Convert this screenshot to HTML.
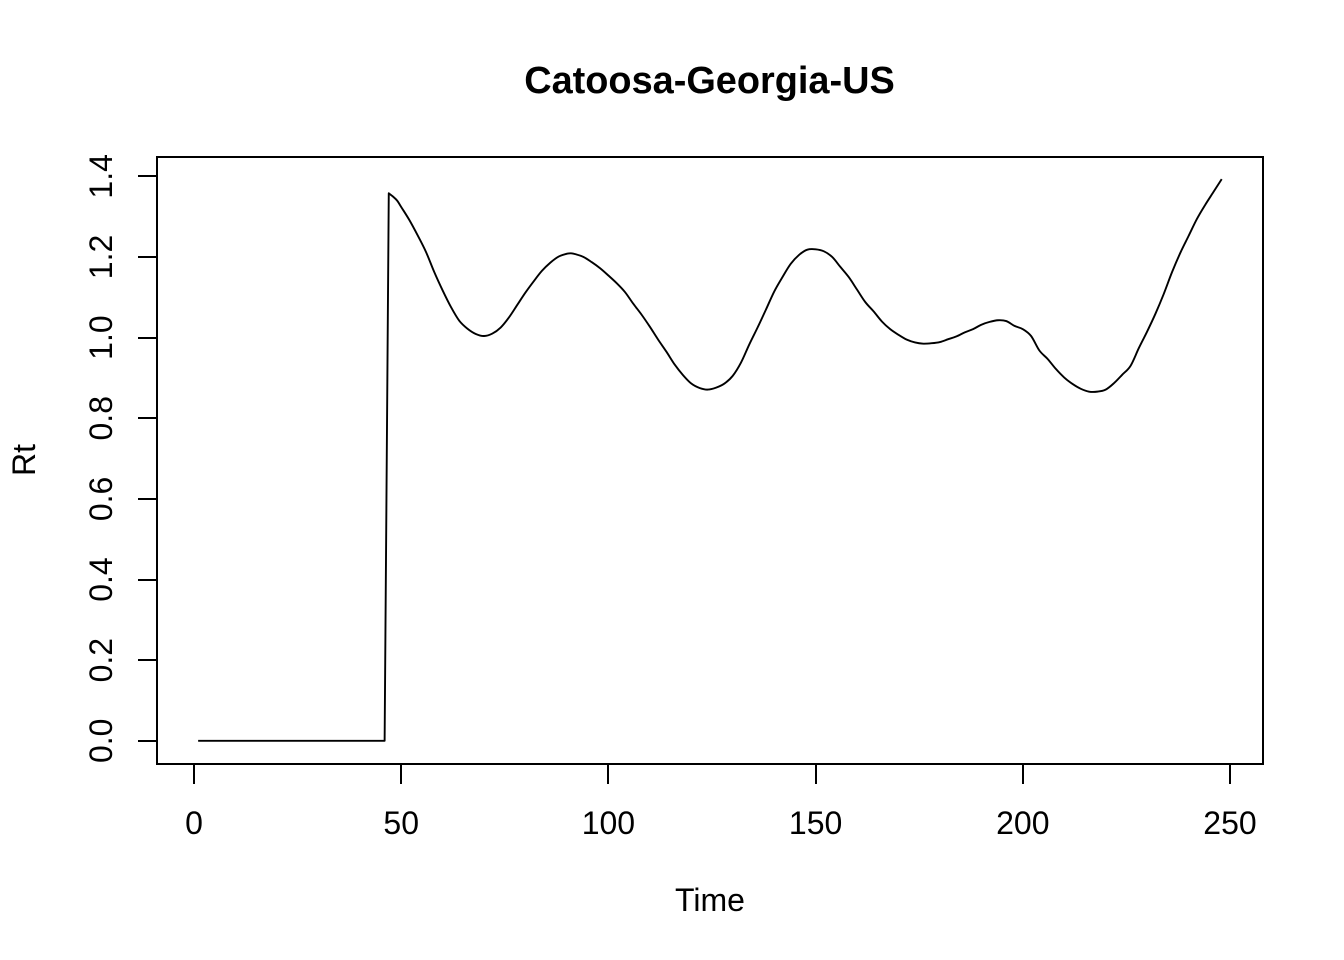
<!DOCTYPE html>
<html lang="en">
<head>
<meta charset="utf-8">
<title>Catoosa-Georgia-US</title>
<style>
html,body{margin:0;padding:0;background:#fff;}
svg{display:block;}
text{font-family:"Liberation Sans",Arial,sans-serif;fill:#000;}
</style>
</head>
<body>
<svg id="chart" xmlns="http://www.w3.org/2000/svg" width="1344" height="960" viewBox="0 0 1344 960">
  <rect x="0" y="0" width="1344" height="960" fill="#fff"/>
  <text x="709.5" y="93" font-size="37.9" font-weight="700" text-anchor="middle">Catoosa-Georgia-US</text>
  <text x="710" y="911" font-size="32" text-anchor="middle">Time</text>
  <text x="35" y="460" font-size="32" text-anchor="middle" transform="rotate(-90 35 460)">Rt</text>
  <g id="x-axis"></g>
  <g id="y-axis"></g>
  <path id="rt-line" fill="none" stroke="#000" stroke-width="1.9" stroke-linejoin="round"></path>
  <rect x="157" y="157" width="1106" height="607" fill="none" stroke="#000" stroke-width="2" shape-rendering="crispEdges"/>
</svg>
<script>
const xTicks = [0, 50, 100, 150, 200, 250];
const yTicks = [0, 0.2, 0.4, 0.6, 0.8, 1.0, 1.2, 1.4];
const yTickLabels = ["0.0", "0.2", "0.4", "0.6", "0.8", "1.0", "1.2", "1.4"];
const time = [1,10,20,30,40,46,47,48,49,50,52,54,56,58,60,62,64,66,68,70,72,74,76,78,80,82,84,86,88,90,91,92,94,96,98,100,102,104,106,108,110,112,114,116,118,120,122,124,126,128,130,132,134,136,138,140,142,144,146,148,150,152,154,156,158,160,162,164,166,168,170,172,174,176,178,180,182,184,186,188,190,192,194,196,198,200,202,204,206,208,210,212,214,216,218,220,222,224,226,228,230,232,234,236,238,240,242,244,246,248];
const rt = [0,0,0,0,0,0,1.358,1.350,1.340,1.324,1.291,1.253,1.212,1.162,1.117,1.076,1.042,1.022,1.009,1.004,1.010,1.025,1.050,1.081,1.112,1.140,1.166,1.186,1.201,1.208,1.209,1.207,1.200,1.187,1.172,1.154,1.135,1.113,1.084,1.057,1.027,0.995,0.965,0.933,0.907,0.886,0.875,0.871,0.876,0.886,0.905,0.938,0.983,1.025,1.069,1.114,1.150,1.183,1.205,1.218,1.219,1.214,1.200,1.175,1.150,1.119,1.088,1.065,1.040,1.021,1.007,0.995,0.988,0.985,0.986,0.989,0.996,1.003,1.013,1.021,1.032,1.039,1.043,1.041,1.029,1.021,1.004,0.968,0.947,0.922,0.901,0.885,0.873,0.866,0.866,0.871,0.887,0.908,0.930,0.974,1.015,1.059,1.108,1.162,1.210,1.252,1.294,1.329,1.361,1.393];

const SVG_NS = "http://www.w3.org/2000/svg";
function xScale(v) { return 194 + v * 4.144; }
function yScale(v) { return 740.8 - v * 403.2; }

const xAxis = document.getElementById("x-axis");
xTicks.forEach(function (t) {
  const px = Math.round(xScale(t));
  const tick = document.createElementNS(SVG_NS, "line");
  tick.setAttribute("x1", px);
  tick.setAttribute("x2", px);
  tick.setAttribute("y1", 764);
  tick.setAttribute("y2", 784);
  tick.setAttribute("stroke", "#000");
  tick.setAttribute("stroke-width", 2);
  tick.setAttribute("shape-rendering", "crispEdges");
  
  
  xAxis.appendChild(tick);
  const label = document.createElementNS(SVG_NS, "text");
  label.setAttribute("x", xScale(t));
  label.setAttribute("y", 834);
  label.setAttribute("font-size", 32);
  label.setAttribute("text-anchor", "middle");
  label.textContent = String(t);
  
  
  xAxis.appendChild(label);
});

const yAxis = document.getElementById("y-axis");
yTicks.forEach(function (t, i) {
  const py = Math.round(yScale(t));
  const tick = document.createElementNS(SVG_NS, "line");
  tick.setAttribute("x1", 138);
  tick.setAttribute("x2", 157);
  tick.setAttribute("y1", py);
  tick.setAttribute("y2", py);
  tick.setAttribute("stroke", "#000");
  tick.setAttribute("stroke-width", 2);
  tick.setAttribute("shape-rendering", "crispEdges");
  
  
  yAxis.appendChild(tick);
  const label = document.createElementNS(SVG_NS, "text");
  label.setAttribute("x", 112);
  label.setAttribute("y", yScale(t));
  label.setAttribute("font-size", 32);
  label.setAttribute("text-anchor", "middle");
  label.setAttribute("transform", "rotate(-90 112 " + yScale(t) + ")");
  label.textContent = yTickLabels[i];
  
  
  yAxis.appendChild(label);
});

// Straight segments across the flat run and the jump; gentle curve through the readings after it.
const pts = time.map(function (t, i) { return [xScale(t), yScale(rt[i])]; });
let d = "M" + pts[0][0].toFixed(2) + " " + pts[0][1].toFixed(2);
for (let i = 1; i < pts.length; i++) {
  const straight = Math.abs(rt[i] - rt[i - 1]) > 0.2 || (rt[i] === 0 && rt[i - 1] === 0);
  if (straight) {
    d += "L" + pts[i][0].toFixed(2) + " " + pts[i][1].toFixed(2);
  } else {
    const p0 = (i >= 2 && Math.abs(rt[i - 1] - rt[i - 2]) <= 0.2) ? pts[i - 2] : pts[i - 1];
    const p1 = pts[i - 1];
    const p2 = pts[i];
    const p3 = i + 1 < pts.length ? pts[i + 1] : pts[i];
    const w1 = (p2[0] - p1[0]) / (p3[0] === p0[0] ? 1 : (p2[0] - p0[0])) / 3;
    const w2 = (p2[0] - p1[0]) / (p3[0] === p1[0] ? 1 : (p3[0] - p1[0])) / 3;
    const c1x = p1[0] + (p2[0] - p0[0]) * w1;
    const c1y = p1[1] + (p2[1] - p0[1]) * w1;
    const c2x = p2[0] - (p3[0] - p1[0]) * w2;
    const c2y = p2[1] - (p3[1] - p1[1]) * w2;
    d += "C" + c1x.toFixed(2) + " " + c1y.toFixed(2) + " " + c2x.toFixed(2) + " " + c2y.toFixed(2) + " " + p2[0].toFixed(2) + " " + p2[1].toFixed(2);
  }
}
document.getElementById("rt-line").setAttribute("d", d);
</script>
</body>
</html>
